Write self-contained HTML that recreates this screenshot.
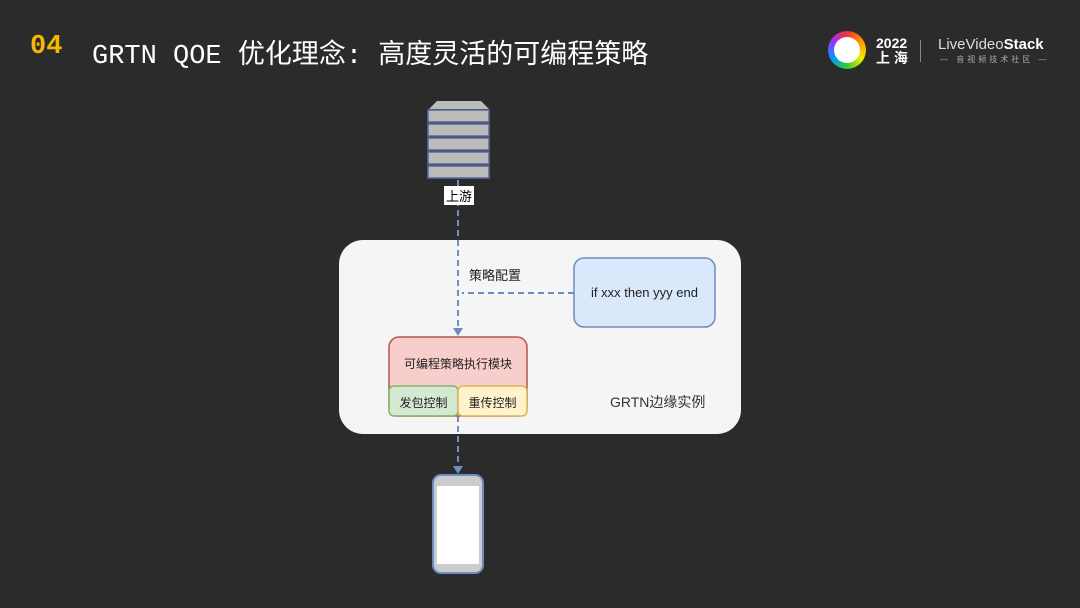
<!DOCTYPE html>
<html><head><meta charset="utf-8"><style>
body{margin:0;width:1080px;height:608px;background:#2b2b2b;position:relative;overflow:hidden;font-family:"Liberation Sans","Noto Sans CJK SC",sans-serif;}
.a{position:absolute}
</style></head><body>
<div class="a" style="left:30px;top:32px;font-size:27px;color:#f5b800;font-weight:bold;font-family:'Liberation Mono','Noto Sans CJK SC',monospace">04</div>
<div class="a" style="left:92px;top:32px;font-size:27px;color:#fff;font-family:'Liberation Mono','Noto Sans CJK SC',monospace">GRTN QOE 优化理念: 高度灵活的可编程策略</div>
<div class="a" style="left:828px;top:31px;width:38px;height:38px;border-radius:50%;background:conic-gradient(#e33,#f90,#ee0,#3c3,#09f,#93f,#e33)"></div>
<div class="a" style="left:834px;top:37px;width:26px;height:26px;border-radius:50%;background:#fff"></div>
<div class="a" style="left:876px;top:36px;color:#fff;font-weight:bold;font-size:14px;line-height:15px">2022<br>上 海</div>
<div class="a" style="left:920px;top:40px;width:1px;height:22px;background:#888"></div>
<div class="a" style="left:938px;top:36px;color:#ddd;font-size:15px">LiveVideo<b style="color:#fff">Stack</b></div>
<div class="a" style="left:940px;top:54px;color:#aaa;font-size:8px;letter-spacing:3px">— 音视频技术社区 —</div>
<svg class="a" style="left:0;top:0" width="1080" height="608">
<g fill="#bbb">
<polygon points="437,101 481,101 489,109 429,109"/>
<rect x="428" y="110" width="61" height="12" stroke="#5a6aa0" stroke-width="1.5"/>
<rect x="428" y="124" width="61" height="12" stroke="#5a6aa0" stroke-width="1.5"/>
<rect x="428" y="138" width="61" height="12" stroke="#5a6aa0" stroke-width="1.5"/>
<rect x="428" y="152" width="61" height="12" stroke="#5a6aa0" stroke-width="1.5"/>
<rect x="428" y="166" width="61" height="12" stroke="#5a6aa0" stroke-width="1.5"/>
</g>
<rect x="339" y="240" width="402" height="194" rx="24" fill="#f5f5f5"/>
<g stroke="#6c8ebf" stroke-width="2" stroke-dasharray="6,4" fill="none">
<line x1="458" y1="180" x2="458" y2="330"/>
<line x1="574" y1="293" x2="462" y2="293"/>
<line x1="458" y1="416" x2="458" y2="468"/>
</g>
<polygon points="453,328 463,328 458,336" fill="#6c8ebf"/>
<polygon points="453,466 463,466 458,474" fill="#6c8ebf"/>
<rect x="574" y="258" width="141" height="69" rx="10" fill="#dae8fc" stroke="#6c8ebf" stroke-width="1.5"/>
<rect x="389" y="337" width="138" height="79" rx="10" fill="#f8cecc" stroke="#b85450" stroke-width="1.5"/>
<rect x="389" y="386" width="69" height="30" rx="5" fill="#d5e8d4" stroke="#82b366" stroke-width="1.5"/>
<rect x="458" y="386" width="69" height="30" rx="5" fill="#fff2cc" stroke="#d6b656" stroke-width="1.5"/>
<rect x="433" y="475" width="50" height="98" rx="8" fill="#ccc" stroke="#6c8ebf" stroke-width="2"/>
<rect x="437" y="486" width="42" height="78" fill="#fff"/>
</svg>
<div class="a" style="left:444px;top:186px;background:#fff;font-size:13px;padding:0 2px">上游</div>
<div class="a" style="left:469px;top:265px;font-size:13px;color:#222">策略配置</div>
<div class="a" style="left:574px;top:285px;width:141px;text-align:center;font-size:13px;color:#222">if xxx then yyy end</div>
<div class="a" style="left:389px;top:355px;width:138px;text-align:center;font-size:12px;color:#222">可编程策略执行模块</div>
<div class="a" style="left:389px;top:394px;width:69px;text-align:center;font-size:12px;color:#222">发包控制</div>
<div class="a" style="left:458px;top:394px;width:69px;text-align:center;font-size:12px;color:#222">重传控制</div>
<div class="a" style="left:610px;top:392px;font-size:14px;color:#333">GRTN边缘实例</div>
</body></html>
